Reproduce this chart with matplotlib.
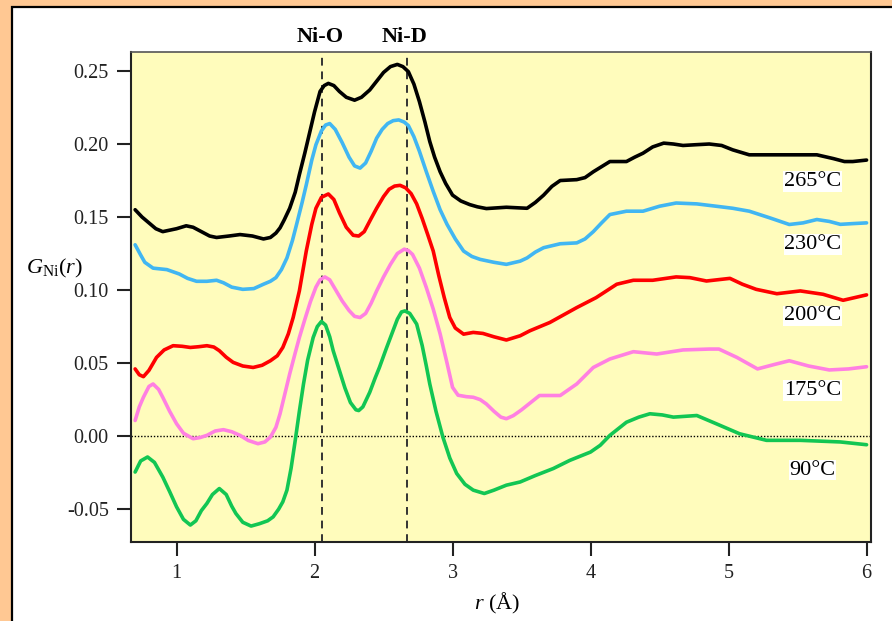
import matplotlib
matplotlib.use("Agg")
import matplotlib.pyplot as plt
from matplotlib.patches import Rectangle
from matplotlib.ticker import FuncFormatter
import matplotlib.transforms as mtransforms

plt.rcParams['font.family'] = ['Liberation Serif', 'DejaVu Serif']
plt.rcParams['mathtext.fontset'] = 'custom'
plt.rcParams['mathtext.rm'] = 'Liberation Serif'
plt.rcParams['mathtext.it'] = 'Liberation Serif:italic'
plt.rcParams['mathtext.bf'] = 'Liberation Serif:bold'

# G_Ni(r) curves, one pair of lists per temperature
r_265 = [0.70, 0.75, 0.80, 0.85, 0.90, 0.95, 1.00, 1.07, 1.12, 1.18, 1.24, 1.29, 1.38, 1.46, 1.55, 1.63, 1.68, 1.72,
	1.75, 1.78, 1.82, 1.86, 1.89, 1.93, 1.96, 2.00, 2.04, 2.07, 2.10, 2.14, 2.18, 2.23, 2.29, 2.34, 2.40, 2.45, 2.50,
	2.55, 2.60, 2.64, 2.68, 2.72, 2.76, 2.80, 2.835, 2.87, 2.91, 2.95, 3.00, 3.06, 3.125, 3.18, 3.245, 3.39, 3.54,
	3.60, 3.66, 3.72, 3.78, 3.90, 3.96, 4.02, 4.14, 4.26, 4.32, 4.38, 4.45, 4.53, 4.60, 4.67, 4.76, 4.86, 4.95,
	5.03, 5.15, 5.35, 5.64, 5.76, 5.84, 5.90, 6.00]
g_265 = [0.155, 0.150, 0.146, 0.142, 0.140, 0.141, 0.142, 0.144, 0.143, 0.140, 0.137, 0.136, 0.137, 0.138, 0.137,
	0.135, 0.136, 0.139, 0.1426, 0.148, 0.156, 0.167, 0.179, 0.194, 0.206, 0.222, 0.236, 0.240, 0.2415, 0.240, 0.236,
	0.232, 0.230, 0.232, 0.237, 0.243, 0.249, 0.253, 0.2545, 0.253, 0.2495, 0.241, 0.229, 0.215, 0.2017, 0.191,
	0.181, 0.173, 0.165, 0.161, 0.1585, 0.157, 0.1558, 0.1567, 0.156, 0.160, 0.165, 0.171, 0.175, 0.1756, 0.177,
	0.181, 0.188, 0.188, 0.191, 0.1937, 0.198, 0.2006, 0.200, 0.199, 0.1995, 0.200, 0.199, 0.196, 0.1926, 0.1926,
	0.1926, 0.190, 0.188, 0.188, 0.189]

r_230 = [0.70, 0.74, 0.77, 0.83, 0.93, 1.02, 1.08, 1.145, 1.22, 1.29, 1.34, 1.40, 1.48, 1.56, 1.63, 1.68, 1.72, 1.76,
	1.80, 1.84, 1.87, 1.91, 1.94, 1.98, 2.01, 2.05, 2.08, 2.11, 2.15, 2.20, 2.25, 2.29, 2.33, 2.37, 2.41, 2.45, 2.49,
	2.53, 2.57, 2.61, 2.65, 2.68, 2.72, 2.76, 2.81, 2.86, 2.91, 2.96, 3.02, 3.08, 3.14, 3.20, 3.30, 3.39, 3.49, 3.54,
	3.60, 3.66, 3.78, 3.90, 3.96, 4.02, 4.08, 4.14, 4.26, 4.38, 4.50, 4.62, 4.77, 4.91, 5.03, 5.15, 5.30, 5.44, 5.54,
	5.64, 5.73, 5.81, 5.90, 6.00]
g_230 = [0.131, 0.124, 0.119, 0.115, 0.114, 0.111, 0.108, 0.106, 0.106, 0.1067, 0.105, 0.102, 0.1005, 0.101, 0.104,
	0.106, 0.1085, 0.114, 0.122, 0.134, 0.145, 0.160, 0.172, 0.189, 0.1995, 0.209, 0.213, 0.214, 0.210, 0.201, 0.191,
	0.185, 0.1835, 0.187, 0.195, 0.204, 0.210, 0.214, 0.216, 0.2165, 0.215, 0.2126, 0.205, 0.195, 0.181, 0.1676, 0.155,
	0.145, 0.135, 0.1267, 0.123, 0.121, 0.119, 0.1176, 0.1198, 0.122, 0.126, 0.129, 0.1317, 0.1323, 0.135, 0.140,
	0.146, 0.1517, 0.154, 0.154, 0.1574, 0.1596, 0.159, 0.1574, 0.156, 0.154, 0.1494, 0.1449, 0.146, 0.1483, 0.147,
	0.145, 0.1455, 0.146]

r_200 = [0.70, 0.73, 0.76, 0.80, 0.855, 0.91, 0.975, 1.04, 1.10, 1.16, 1.22, 1.27, 1.31, 1.36, 1.41, 1.48, 1.555,
	1.62, 1.68, 1.73, 1.77, 1.81, 1.845, 1.89, 1.94, 1.98, 2.01, 2.05, 2.10, 2.14, 2.18, 2.23, 2.28, 2.32, 2.36, 2.41,
	2.45, 2.50, 2.54, 2.58, 2.62, 2.66, 2.70, 2.74, 2.78, 2.82, 2.86, 2.90, 2.94, 2.98, 3.02, 3.08, 3.15, 3.22, 3.30,
	3.39, 3.49, 3.56, 3.705, 3.90, 4.04, 4.19, 4.31, 4.45, 4.62, 4.72, 4.84, 5.01, 5.10, 5.20, 5.35, 5.52, 5.685,
	5.83, 6.00]
g_200 = [0.046, 0.042, 0.0407, 0.045, 0.0539, 0.059, 0.0619, 0.0615, 0.0607, 0.0612, 0.0619, 0.061, 0.0585, 0.054,
	0.0505, 0.048, 0.047, 0.0485, 0.0516, 0.055, 0.0607, 0.070, 0.0812, 0.0994, 0.1267, 0.145, 0.156, 0.1635, 0.1658,
	0.162, 0.153, 0.143, 0.1375, 0.137, 0.140, 0.149, 0.156, 0.164, 0.169, 0.1712, 0.1717, 0.170, 0.166, 0.159, 0.149,
	0.138, 0.1267, 0.110, 0.0948, 0.0812, 0.074, 0.0698, 0.071, 0.0703, 0.068, 0.0658, 0.0687, 0.0721, 0.0778, 0.088,
	0.0948, 0.104, 0.1067, 0.1067, 0.109, 0.1085, 0.1062, 0.108, 0.104, 0.1005, 0.0975, 0.0994, 0.0971, 0.093, 0.0967]

r_175 = [0.70, 0.73, 0.76, 0.80, 0.83, 0.87, 0.90, 0.95, 1.00, 1.05, 1.12, 1.17, 1.22, 1.28, 1.34, 1.40, 1.46, 1.52,
	1.59, 1.64, 1.68, 1.72, 1.75, 1.78, 1.82, 1.86, 1.89, 1.93, 1.97, 2.01, 2.04, 2.075, 2.11, 2.16, 2.20, 2.25,
	2.29, 2.33, 2.37, 2.41, 2.45, 2.50, 2.55, 2.60, 2.65, 2.68, 2.71, 2.76, 2.81, 2.86, 2.91, 2.96, 3.00, 3.04, 3.10,
	3.15, 3.20, 3.245, 3.30, 3.35, 3.39, 3.44, 3.50, 3.63, 3.78, 3.90, 4.02, 4.14, 4.31, 4.48, 4.67, 4.86, 4.93, 5.06,
	5.21, 5.33, 5.44, 5.58, 5.73, 5.87, 6.00]
g_175 = [0.0107, 0.020, 0.0266, 0.034, 0.0357, 0.032, 0.0266, 0.017, 0.0085, 0.002, -0.0018, -0.001, 0.0005, 0.0035,
	0.0044, 0.003, 0.0005, -0.003, -0.0052, -0.004, -0.0007, 0.006, 0.0153, 0.027, 0.0426, 0.057, 0.0675, 0.080,
	0.092, 0.102, 0.107, 0.109, 0.107, 0.099, 0.0926, 0.086, 0.082, 0.0812, 0.084, 0.091, 0.0994, 0.109, 0.1176, 0.125,
	0.128, 0.127, 0.1244, 0.115, 0.1017, 0.087, 0.070, 0.050, 0.0334, 0.028, 0.0270, 0.0266, 0.025, 0.022, 0.017,
	0.013, 0.0119, 0.014, 0.018, 0.0278, 0.0278, 0.0357, 0.047, 0.0528, 0.0578, 0.0562, 0.059, 0.0596, 0.0596, 0.0539,
	0.046, 0.049, 0.0516, 0.048, 0.0453, 0.046, 0.0475]

r_90 = [0.70, 0.74, 0.79, 0.84, 0.90, 0.95, 1.00, 1.05, 1.10, 1.14, 1.18, 1.22, 1.26, 1.31, 1.36, 1.40, 1.43, 1.48,
	1.54, 1.60, 1.66, 1.70, 1.74, 1.77, 1.80, 1.83, 1.86, 1.89, 1.92, 1.95, 1.99, 2.02, 2.05, 2.08, 2.11, 2.135, 2.18,
	2.22, 2.26, 2.30, 2.32, 2.35, 2.40, 2.44, 2.47, 2.52, 2.56, 2.60, 2.63, 2.655, 2.69, 2.74, 2.78, 2.81, 2.835,
	2.88, 2.93, 2.98, 3.03, 3.09, 3.15, 3.23, 3.30, 3.39, 3.49, 3.60, 3.73, 3.85, 4.00, 4.07, 4.14, 4.26, 4.35, 4.43,
	4.52, 4.60, 4.77, 4.91, 5.08, 5.275, 5.52, 5.81, 6.00]
g_90 = [-0.0246, -0.017, -0.0143, -0.018, -0.028, -0.038, -0.0484, -0.057, -0.0609, -0.058, -0.051, -0.0461, -0.040,
	-0.0359, -0.040, -0.048, -0.053, -0.059, -0.0616, -0.060, -0.058, -0.0553, -0.050, -0.045, -0.037, -0.022, -0.003,
	0.017, 0.0357, 0.052, 0.0675, 0.075, 0.0785, 0.076, 0.068, 0.0585, 0.045, 0.033, 0.023, 0.018, 0.0175, 0.020,
	0.030, 0.040, 0.047, 0.060, 0.070, 0.080, 0.085, 0.0857, 0.084, 0.0767, 0.062, 0.048, 0.0357, 0.017, -0.0007,
	-0.015, -0.0256, -0.033, -0.037, -0.0393, -0.037, -0.0336, -0.0314, -0.027, -0.0222, -0.0166, -0.0109, -0.0063,
	0.0005, 0.0095, 0.013, 0.0153, 0.0145, 0.013, 0.0141, 0.0085, 0.0016, -0.0029, -0.0029, -0.004, -0.0059]

temps = ['265°C', '230°C', '200°C', '175°C', '90°C']
label_y = [0.1744, 0.1312, 0.0823, 0.0312, -0.0234]
peaks = ['Ni-O', 'Ni-D']
peak_r = [2.053, 2.669]
x_ticks = [1, 2, 3, 4, 5, 6]
y_ticks = [-0.05, 0.00, 0.05, 0.10, 0.15, 0.20, 0.25]

curves = [(r_265, g_265, '#000000'), (r_230, g_230, '#41B6F2'),
	(r_200, g_200, '#FF0000'), (r_175, g_175, '#FF80E2'), (r_90, g_90, '#12C653')]

fig = plt.figure(figsize=(8.92, 6.21), dpi=100)
fig.patch.set_facecolor('#FFC893')
# white slide panel with black edge, runs off the right and bottom
fig.patches.append(Rectangle((11.5 / 892, -0.1), 2.0, 1.1 - 6.5 / 621, transform=fig.transFigure,
	facecolor='white', edgecolor='black', linewidth=1.6, zorder=-5))

ax = fig.add_axes([131 / 892, 1 - 541.7 / 621, 739.7 / 892, 489.7 / 621])
ax.set_facecolor('#FFFCBC')

for r, g, c in curves:
	ax.plot(r, g, color=c, linewidth=2.6, solid_joinstyle='round', solid_capstyle='round', zorder=3)

ax.axhline(0, color='black', linestyle=(0, (1, 1.3)), linewidth=1.0, zorder=2)
trans = mtransforms.blended_transform_factory(ax.transData, ax.transAxes)
for name, pr in zip(peaks, peak_r):
	ax.axvline(pr, color='#333333', linestyle=(0, (4, 3)), linewidth=1.4, zorder=2)
	ax.text(pr - 0.015, 1.031, name, transform=trans, ha='center', va='center',
		fontsize=16, fontweight='bold', clip_on=False)

for t, ly in zip(temps, label_y):
	ax.text(5.61, ly, t, ha='center', va='center', fontsize=16,
		bbox=dict(facecolor='white', edgecolor='none', pad=0.5), zorder=4)

ax.set_xlim(0.67, 6.03)
ax.set_ylim(-0.0723, 0.263)
ax.set_xticks(x_ticks)
ax.set_yticks(y_ticks)
ax.yaxis.set_major_formatter(FuncFormatter(lambda v, p: ('%.2f' % v).replace('\u2212', '-')))
ax.tick_params(direction='out', length=10, width=1.5, labelsize=14.5, pad=6, colors='#222222',
	top=False, right=False)
for side in ['left', 'bottom', 'right']:
	ax.spines[side].set_linewidth(1.5)
	ax.spines[side].set_color('#222222')
ax.spines['top'].set_linewidth(1.2)
ax.spines['top'].set_color('#555555')

fig.text(497 / 892, 1 - 603 / 621, r'$r$ (Å)', ha='center', va='center', fontsize=16)
fig.text(54 / 892, 1 - 268 / 621, r'$G_{\mathrm{Ni}}(r)$', ha='center', va='center', fontsize=16)

fig.savefig('out.png', dpi=100, facecolor=fig.get_facecolor())
